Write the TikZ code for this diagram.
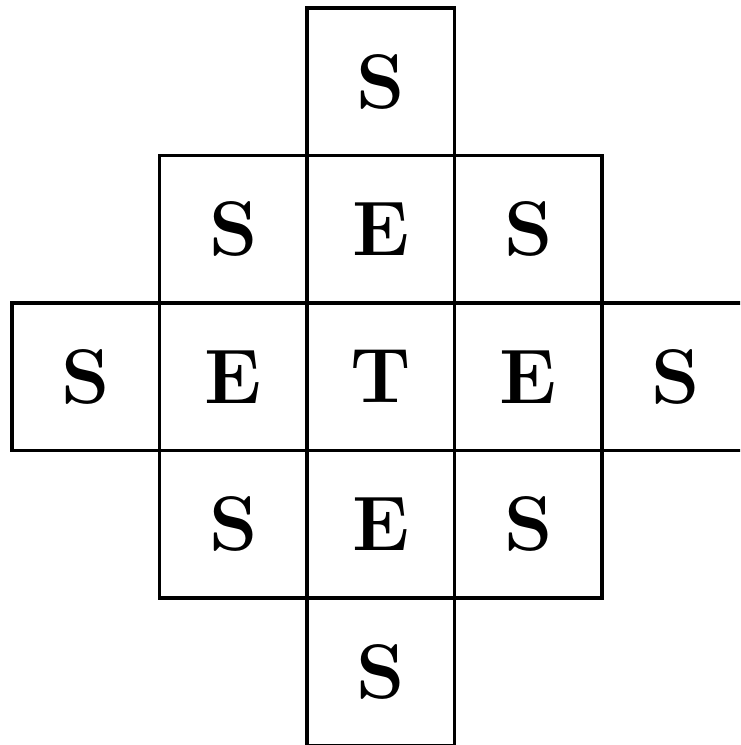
\documentclass[tikz,border=0pt]{standalone}
\usetikzlibrary{positioning}
\tikzset{
  every picture/.style={line width=2.2pt},
  cell/.style={draw, minimum size=2.95cm, inner sep=0pt, outer sep=0pt,
    font=\fontsize{44}{44}\selectfont\bfseries},
}

\begin{document}
\begin{tikzpicture}
  % page frame: the right column runs off the edge
  \clip (0,0) rectangle (14.8,-14.9);
  % centre cell, then its neighbours around it
  \node[cell] (c22) at (7.615,-7.535) {T};
  \node[cell, above=0pt of c22] (c21) {E};
  \node[cell, below=0pt of c22] (c23) {E};
  \node[cell, left=0pt of c22] (c12) {E};
  \node[cell, right=0pt of c22] (c32) {E};
  \node[cell, above=0pt of c21] (c20) {S};
  \node[cell, below=0pt of c23] (c24) {S};
  \node[cell, left=0pt of c12] (c02) {S};
  \node[cell, right=0pt of c32] (c42) {S};
  % the four diagonal cells
  \foreach \a/\b/\n in {c12/c21/c11, c32/c21/c31, c12/c23/c13, c32/c23/c33} {
    \node[cell] (\n) at (\a |- \b) {S};
  }
\end{tikzpicture}
\end{document}
